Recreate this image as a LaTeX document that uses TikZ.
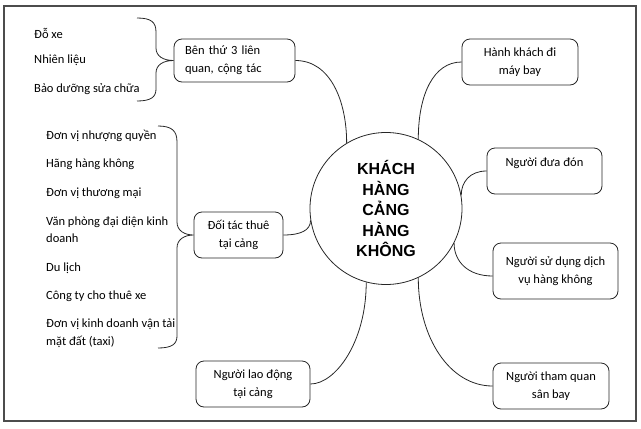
\documentclass[tikz,border=0pt]{standalone}
\usepackage{fontspec}
\setmainfont{Carlito}
\newfontfamily\headfont{Liberation Sans}
\begin{document}
\begin{tikzpicture}[x=1pt,y=-1pt,
  line/.style={draw=black!85, line width=0.8pt},
  box/.style={line, rounded corners=8pt, inner sep=0pt, align=center, font=\fontsize{12.5}{18}\selectfont},
  item/.style={anchor=west, inner sep=0pt, align=left, font=\fontsize{12.5}{17.5}\selectfont},
  link/.style={line}]
\useasboundingbox (0,0) rectangle (641,429);
\draw[draw=black!70, line width=1.1pt] (4,6) rectangle (636,421);
% hub
\node[circle, line, minimum size=152pt, inner sep=0pt, align=center,
  font=\headfont\bfseries\fontsize{16}{20.5}\selectfont] (hub) at (386,208.5)
  {KHÁCH\\HÀNG\\CẢNG\\HÀNG\\KHÔNG};
% boxes
\node[box, minimum width=121pt, minimum height=43pt, text width=99pt, align=left, inner xsep=11pt] (b1) at (234.5,60.5) {Bên thứ 3 liên\\quan, cộng tác};
\node[box, minimum width=116pt, minimum height=46pt] (b2) at (520,62) {Hành khách đi\\máy bay};
\node[box, minimum width=115pt, minimum height=46pt] (b3) at (544.5,171) {Người đưa đón\\\mbox{}};
\node[box, minimum width=125pt, minimum height=56pt] (b4) at (555.5,271) {Người sử dụng dịch\\vụ hàng không};
\node[box, minimum width=116pt, minimum height=46pt] (b5) at (551,386) {Người tham quan\\sân bay};
\node[box, minimum width=114pt, minimum height=46pt] (b6) at (253,384) {Người lao động\\tại cảng};
\node[box, minimum width=89pt, minimum height=46pt] (b7) at (238.5,235) {Đối tác thuê\\tại cảng};
% list items
\node[item] (t1) at (34,33) {Đỗ xe};
\node[item] (t2) at (34,60) {Nhiên liệu};
\node[item] (t3) at (34,89) {Bảo dưỡng sửa chữa};
\node[item] (l1) at (46,136) {Đơn vị nhượng quyền};
\node[item] (l2) at (46,164) {Hãng hàng không};
\node[item] (l3) at (46,193) {Đơn vị thương mại};
\node[item] (l4) at (46,229.5) {Văn phòng đại diện kinh\\doanh};
\node[item] (l5) at (46,268) {Du lịch};
\node[item] (l6) at (46,296) {Công ty cho thuê xe};
\node[item] (l7) at (46,333) {Đơn vị kinh doanh vận tải\\mặt đất (taxi)};
% brace end points
\coordinate (bt1) at (137,18);
\coordinate (bb1) at (137,101);
\coordinate (bt2) at (158,126);
\coordinate (bb2) at (158,348);
% braces
\draw[line] (bt1) .. controls (151,18) and (156,22) .. (156,32) -- (156,48)
  .. controls (156,56) and (163,60.5) .. (b1.west)
  .. controls (163,60.5) and (156,65) .. (156,73) -- (156,89)
  .. controls (156,97) and (151,101) .. (bb1);
\draw[line] (bt2) .. controls (172,126) and (177,131) .. (177,142) -- (177,222)
  .. controls (177,231) and (185,235) .. (b7.west)
  .. controls (185,235) and (177,239) .. (177,248) -- (177,336)
  .. controls (177,344) and (172,348) .. (bb2);
% connectors
\draw[link] (b1.east) .. controls +(35,0) and +(0,-42) .. (hub.121);
\draw[link] (b2.west) .. controls +(-28,0) and +(0,-45) .. (hub.65);
\draw[link] (b3.west) .. controls +(-17,0) and +(0,-13) .. (hub.10);
\draw[link] ([yshift=-5pt]b4.west) .. controls +(-25,0) and +(0,18) .. (hub.-27);
\draw[link] (b5.west) .. controls +(-43,0) and +(0,60) .. (hub.-65);
\draw[link] (b6.east) .. controls +(25,0) and +(0,60) .. (hub.-105);
\draw[link] (b7.east) .. controls +(17,0) and +(0,10) .. (hub.-171);
\end{tikzpicture}
\end{document}
